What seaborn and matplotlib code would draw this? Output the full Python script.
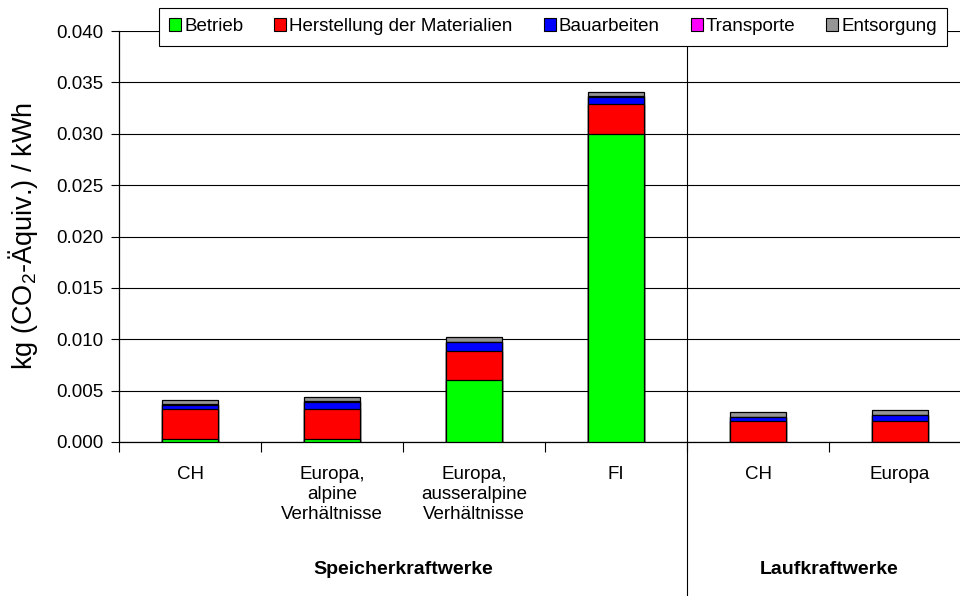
import matplotlib
matplotlib.use("Agg")
import matplotlib.pyplot as plt
from matplotlib.patches import Patch
import seaborn as sns
import pandas as pd
import numpy as np

# ---- data ----
keys = ["S_CH", "S_EU_alp", "S_EU_aus", "S_FI", "L_CH", "L_EU"]
tick_labels = ["CH", "Europa,\nalpine\nVerhältnisse", "Europa,\nausseralpine\nVerhältnisse",
               "FI", "CH", "Europa"]
groups = ["Speicherkraftwerke", "Laufkraftwerke"]
series = ["Betrieb", "Herstellung der Materialien", "Bauarbeiten", "Transporte", "Entsorgung"]
betrieb = [0.0003, 0.0003, 0.0060, 0.0300, 0.0000, 0.0000]
herstellung = [0.0029, 0.0029, 0.0029, 0.0029, 0.0020, 0.0020]
bauarbeiten = [0.0004, 0.0007, 0.0008, 0.0007, 0.0004, 0.0006]
transporte = [0.00005, 0.00005, 0.00005, 0.00005, 0.00005, 0.00005]
entsorgung = [0.00045, 0.00045, 0.00045, 0.00045, 0.00045, 0.00045]
colors = ["#00FF00", "#FF0000", "#0000FF", "#FF00FF", "#969696"]

sns.set_theme(style="white")
plt.rcParams["font.family"] = ["Liberation Sans", "DejaVu Sans"]
plt.rcParams["mathtext.fontset"] = "custom"
plt.rcParams["mathtext.rm"] = "Liberation Sans"
plt.rcParams["mathtext.it"] = "Liberation Sans"
plt.rcParams["mathtext.bf"] = "Liberation Sans:bold"
for k in ["text.color", "axes.labelcolor", "xtick.color", "ytick.color"]:
    plt.rcParams[k] = "black"

fig = plt.figure(figsize=(9.6, 5.96), dpi=100)
ax = fig.add_axes([119 / 960, 1 - 442 / 596, 852 / 960, 411 / 596])

vals = np.array([betrieb, herstellung, bauarbeiten, transporte, entsorgung])
cum = np.cumsum(vals, axis=0)

# draw from the top layer down so lower segments overlay
for i in range(len(series) - 1, -1, -1):
    df = pd.DataFrame({"key": keys, "val": cum[i]})
    sns.barplot(data=df, x="key", y="val", order=keys, color=colors[i],
                saturation=1, width=0.4, edgecolor="black", linewidth=0.9,
                ax=ax, zorder=3)

ax.set_xlim(-0.5, len(keys) - 0.5)
ax.set_ylim(0, 0.040)
ax.set_yticks(np.arange(0, 0.0401, 0.005))
ax.set_yticklabels([f"{v:.3f}" for v in np.arange(0, 0.0401, 0.005)], fontsize=13.5)
ax.yaxis.grid(True, color="black", linewidth=0.8)
ax.set_axisbelow(True)

# x ticks: boundaries as major ticks, labels as minor
ax.set_xticks(np.arange(-0.5, len(keys), 1.0))
ax.set_xticklabels([])
ax.set_xticks(np.arange(len(keys)), minor=True)
ax.set_xticklabels(tick_labels, minor=True, fontsize=13.5, linespacing=1.25, va="top")
ax.tick_params(axis="x", which="major", direction="out", length=7, width=0.8,
               color="black", bottom=True)
ax.tick_params(axis="x", which="minor", length=0, pad=17)
ax.tick_params(axis="y", direction="out", length=6, width=0.8, color="black", left=True, pad=5)
ax.set_xlabel("")
ax.set_ylabel(r"kg (CO$_2$-Äquiv.) / kWh", fontsize=19.5, labelpad=12)

for s in ["top", "right"]:
    ax.spines[s].set_visible(False)
for s in ["left", "bottom"]:
    ax.spines[s].set_color("black")
    ax.spines[s].set_linewidth(0.9)

# separator between groups
trans = ax.get_xaxis_transform()
ax.plot([3.5, 3.5], [-0.375, 1.0], color="black", linewidth=0.8, transform=trans,
        clip_on=False, zorder=1)

ax.text(1.5, -0.31, groups[0], transform=trans, ha="center", va="center",
        fontsize=14, fontweight="bold")
ax.text(4.5, -0.31, groups[1], transform=trans, ha="center", va="center",
        fontsize=14, fontweight="bold")

handles = [Patch(facecolor=c, edgecolor="black", linewidth=0.8) for c in colors]
leg = fig.legend(handles, series, loc="upper center", bbox_to_anchor=(0.576, 1 - 8 / 596),
                 ncol=5, fontsize=13.5, frameon=True, fancybox=False, framealpha=1,
                 edgecolor="black", handlelength=0.65, handleheight=0.65,
                 handletextpad=0.15, columnspacing=1.65, borderpad=0.55,
                 borderaxespad=0)
leg.get_frame().set_linewidth(0.8)

fig.savefig("out.png", dpi=100)
